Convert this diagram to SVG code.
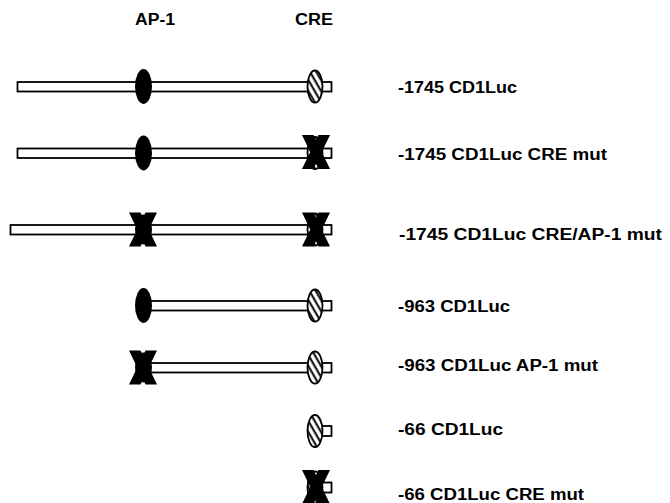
<svg xmlns="http://www.w3.org/2000/svg" width="670" height="503" viewBox="0 0 670 503">
<style>
.bar{fill:#fff;stroke:#000;stroke-width:1.8}
.ap1{fill:#000}
.cre{fill:url(#hatch);stroke:#000;stroke-width:1.8}
.mut{fill:#000}
text{font-family:"Liberation Sans",Arial,Helvetica,sans-serif;font-weight:bold;font-size:16px;fill:#000}
</style>
<defs>
<pattern id="hatch" patternUnits="userSpaceOnUse" width="5.5" height="5.5" patternTransform="rotate(-30)">
<rect width="5.5" height="5.5" fill="#fff"/>
<line x1="1.5" y1="0" x2="1.5" y2="5.5" stroke="#000" stroke-width="2"/>
</pattern>
<path id="x" d="M-14,-17 L-2.5,-17 L14,17 L2.5,17 Z M2.5,-17 L14,-17 L-2.5,17 L-14,17 Z"/>
</defs>

<g id="headers">
<text x="135" y="25" textLength="40" lengthAdjust="spacingAndGlyphs">AP-1</text>
<text x="295" y="25" textLength="38" lengthAdjust="spacingAndGlyphs">CRE</text>
</g>

<g id="row1">
<rect class="bar" x="17.5" y="82" width="314" height="9.5"/>
<ellipse class="ap1" cx="143.5" cy="86.5" rx="8.5" ry="17.5"/>
<ellipse class="cre" cx="315" cy="86.5" rx="7.5" ry="16"/>
<text x="398" y="93" textLength="119" lengthAdjust="spacingAndGlyphs">-1745 CD1Luc</text>
</g>

<g id="row2">
<rect class="bar" x="17.5" y="148.5" width="314" height="9.5"/>
<ellipse class="ap1" cx="143.5" cy="153" rx="8.5" ry="17.5"/>
<ellipse class="cre" cx="315" cy="153" rx="7.5" ry="16"/>
<use href="#x" class="mut" transform="translate(316,152)"/>
<text x="398" y="159.5" textLength="209" lengthAdjust="spacingAndGlyphs">-1745 CD1Luc CRE mut</text>
</g>

<g id="row3">
<rect class="bar" x="10.5" y="225" width="321" height="9.5"/>
<ellipse class="ap1" cx="143.5" cy="229.5" rx="8.5" ry="15"/>
<use href="#x" class="mut" transform="translate(143,229.5)"/>
<ellipse class="cre" cx="315" cy="229.5" rx="7.5" ry="16"/>
<use href="#x" class="mut" transform="translate(316,229.5)"/>
<text x="399" y="239.5" textLength="263" lengthAdjust="spacingAndGlyphs">-1745 CD1Luc CRE/AP-1 mut</text>
</g>

<g id="row4">
<rect class="bar" x="143.5" y="301" width="188" height="9.5"/>
<ellipse class="ap1" cx="143.5" cy="305.5" rx="8.5" ry="17.5"/>
<ellipse class="cre" cx="315" cy="305.5" rx="7.5" ry="16"/>
<text x="398" y="312" textLength="112" lengthAdjust="spacingAndGlyphs">-963 CD1Luc</text>
</g>

<g id="row5">
<rect class="bar" x="143.5" y="363" width="188" height="9.5"/>
<ellipse class="ap1" cx="143.5" cy="367.5" rx="8.5" ry="15"/>
<use href="#x" class="mut" transform="translate(143,367.5)"/>
<ellipse class="cre" cx="315" cy="367.5" rx="7.5" ry="16"/>
<text x="398" y="371" textLength="200" lengthAdjust="spacingAndGlyphs">-963 CD1Luc AP-1 mut</text>
</g>

<g id="row6">
<rect class="bar" x="315" y="426" width="16.5" height="10"/>
<ellipse class="cre" cx="315" cy="431" rx="7.5" ry="16"/>
<text x="398" y="435" textLength="105" lengthAdjust="spacingAndGlyphs">-66 CD1Luc</text>
</g>

<g id="row7">
<rect class="bar" x="315" y="482.5" width="16.5" height="10"/>
<ellipse class="cre" cx="315" cy="487.5" rx="7.5" ry="16"/>
<use href="#x" class="mut" transform="translate(316,487)"/>
<text x="398" y="500" textLength="186" lengthAdjust="spacingAndGlyphs">-66 CD1Luc CRE mut</text>
</g>

<g id="connectors"/>
</svg>
